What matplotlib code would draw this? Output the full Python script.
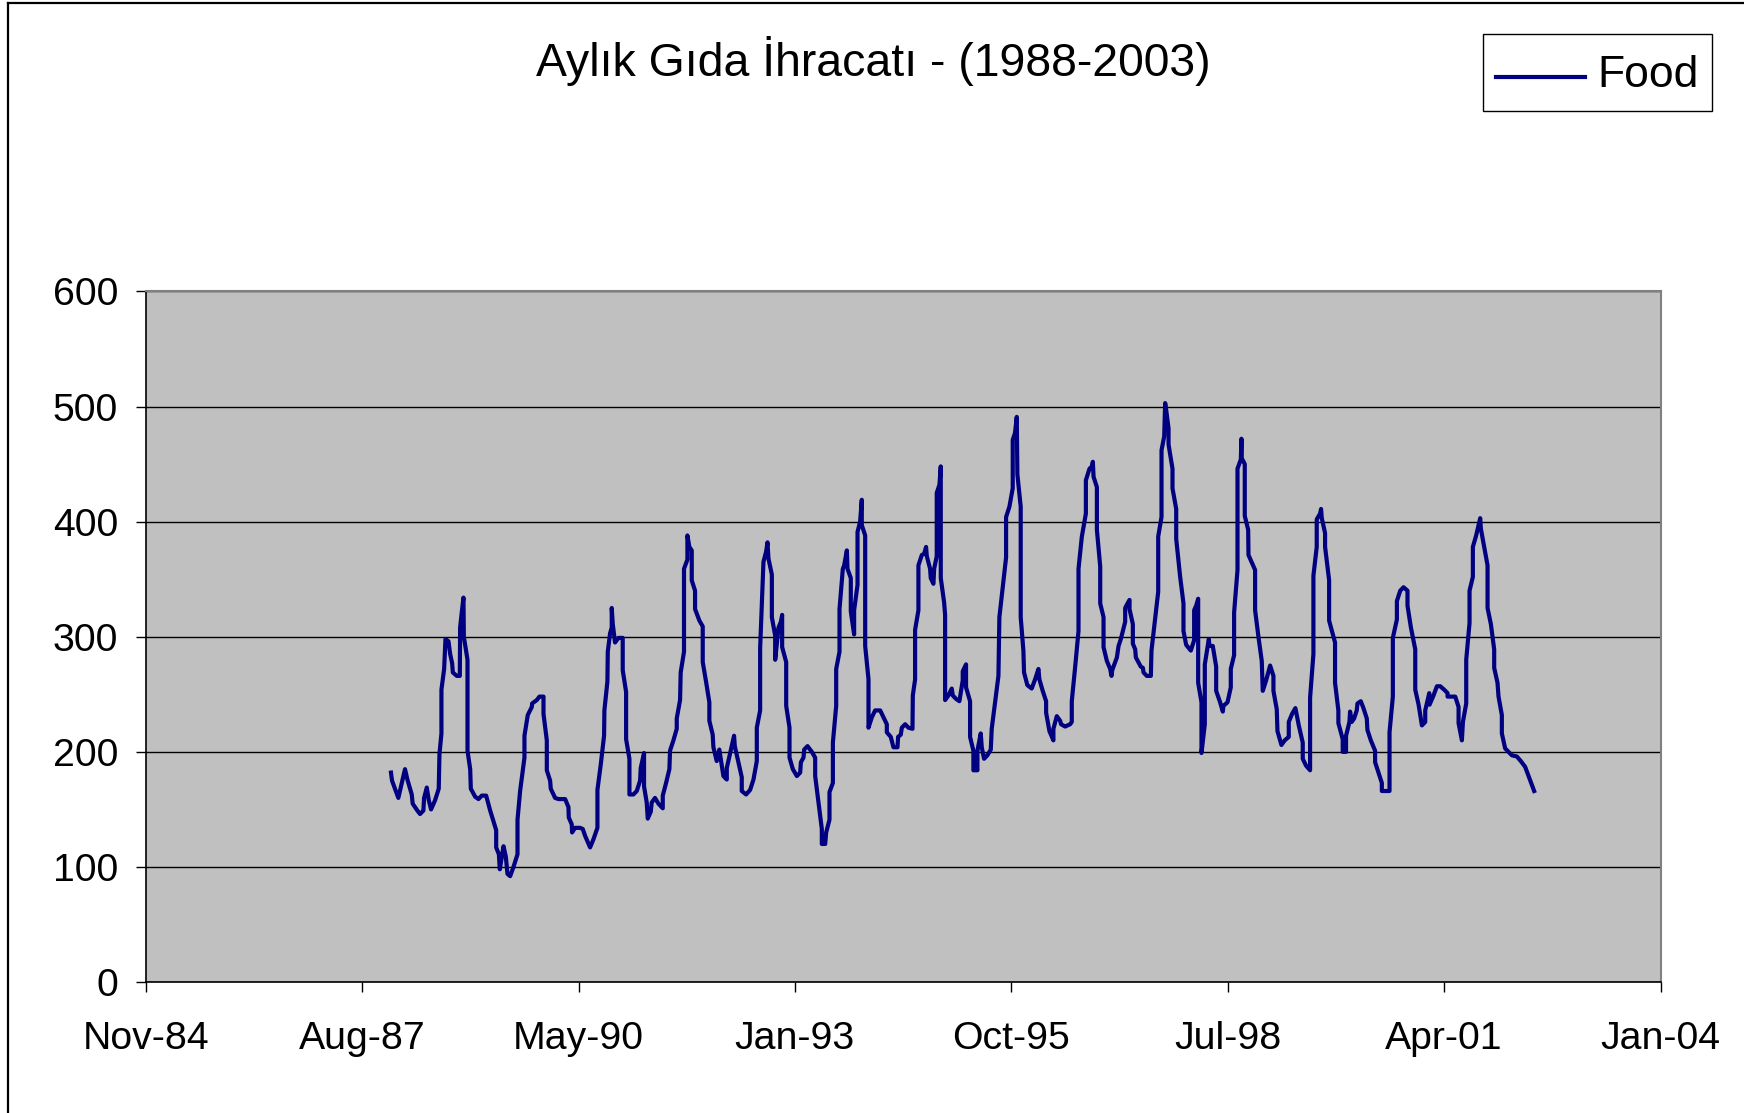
import matplotlib
matplotlib.use("Agg")
import matplotlib.pyplot as plt
import matplotlib.dates as mdates
from matplotlib.lines import Line2D
from matplotlib.legend_handler import HandlerLine2D
from datetime import datetime, timedelta

# ---- data (decimal year, monthly food exports) ----
years = [
    1987.974, 1987.987, 1988.067, 1988.151, 1988.181, 1988.236, 1988.248, 1988.307, 1988.341, 1988.383,
    1988.392, 1988.426, 1988.451, 1988.480, 1988.531, 1988.577, 1988.586, 1988.611, 1988.611, 1988.645,
    1988.662, 1988.700, 1988.721, 1988.746, 1988.755, 1988.805, 1988.843, 1988.847, 1988.864, 1988.889,
    1988.894, 1988.940, 1988.940, 1988.974, 1988.982, 1989.037, 1989.079, 1989.121, 1989.176, 1989.227,
    1989.303, 1989.303, 1989.337, 1989.349, 1989.396, 1989.425, 1989.446, 1989.480, 1989.522, 1989.573,
    1989.573, 1989.606, 1989.661, 1989.661, 1989.703, 1989.754, 1989.758, 1989.817, 1989.851, 1989.902,
    1989.902, 1989.944, 1989.944, 1989.986, 1989.994, 1990.049, 1990.091, 1990.176, 1990.218, 1990.222,
    1990.260, 1990.264, 1990.302, 1990.366,
    1990.399, 1990.429, 1990.492, 1990.534, 1990.585, 1990.585, 1990.627, 1990.669, 1990.673, 1990.711,
    1990.716, 1990.745, 1990.766, 1990.766, 1990.779, 1990.808, 1990.851, 1990.905, 1990.905, 1990.948,
    1990.948, 1990.990, 1990.990, 1991.040, 1991.083, 1991.125, 1991.133, 1991.175, 1991.175, 1991.209,
    1991.222, 1991.260, 1991.272, 1991.314, 1991.357, 1991.412, 1991.412, 1991.454, 1991.496, 1991.504,
    1991.547, 1991.589, 1991.589, 1991.631, 1991.639, 1991.681, 1991.681, 1991.724, 1991.724, 1991.749,
    1991.779, 1991.779, 1991.821, 1991.821, 1991.876, 1991.918, 1991.918, 1991.960, 1992.002, 1992.002,
    1992.044, 1992.053, 1992.095, 1992.128, 1992.179, 1992.222, 1992.222, 1992.314, 1992.323, 1992.369,
    1992.411, 1992.411, 1992.466, 1992.517, 1992.559, 1992.601, 1992.601, 1992.643, 1992.643, 1992.685,
    1992.719, 1992.736,
    1992.748, 1992.791, 1992.791, 1992.833, 1992.833, 1992.875, 1992.905, 1992.921, 1992.921, 1992.972,
    1992.972, 1993.014, 1993.014, 1993.056, 1993.107, 1993.149, 1993.158, 1993.191, 1993.200, 1993.242,
    1993.297, 1993.339, 1993.339, 1993.381, 1993.423, 1993.423, 1993.466, 1993.478, 1993.520, 1993.520,
    1993.563, 1993.563, 1993.605, 1993.605, 1993.647, 1993.647, 1993.689, 1993.706, 1993.740, 1993.748,
    1993.790, 1993.790, 1993.832, 1993.832, 1993.875, 1993.875, 1993.908, 1993.929, 1993.929, 1993.972,
    1993.972, 1994.014, 1994.014, 1994.056, 1994.098, 1994.162, 1994.204, 1994.246, 1994.246, 1994.296,
    1994.330, 1994.381, 1994.389, 1994.423, 1994.436, 1994.478, 1994.520, 1994.571, 1994.575, 1994.604,
    1994.604, 1994.646, 1994.646, 1994.689, 1994.718, 1994.743, 1994.752, 1994.794, 1994.802, 1994.836,
    1994.845, 1994.878, 1994.878, 1994.912, 1994.929, 1994.929, 1994.971, 1994.984, 1994.984, 1995.026,
    1995.068, 1995.081, 1995.123,
    1995.165, 1995.207, 1995.207, 1995.249, 1995.249, 1995.300, 1995.300, 1995.342, 1995.342, 1995.393,
    1995.393, 1995.435, 1995.448, 1995.477, 1995.519, 1995.562, 1995.574, 1995.616, 1995.659, 1995.671,
    1995.713, 1995.756, 1995.756, 1995.798, 1995.840, 1995.840, 1995.869, 1995.891, 1995.899, 1995.941,
    1995.941, 1995.975, 1995.983, 1996.025, 1996.080, 1996.123, 1996.165, 1996.177, 1996.219, 1996.262,
    1996.262, 1996.304, 1996.354, 1996.354, 1996.397, 1996.439, 1996.451, 1996.502, 1996.565, 1996.586,
    1996.586, 1996.629, 1996.671, 1996.671, 1996.713, 1996.764, 1996.764, 1996.810, 1996.840, 1996.852,
    1996.861, 1996.903, 1996.903, 1996.945, 1996.945, 1996.987, 1996.987, 1997.029, 1997.071, 1997.088,
    1997.097, 1997.156, 1997.177, 1997.206, 1997.261, 1997.261, 1997.291, 1997.316, 1997.316, 1997.358,
    1997.358, 1997.388, 1997.396, 1997.443, 1997.459, 1997.485, 1997.493, 1997.535, 1997.569,
    1997.586, 1997.594, 1997.637, 1997.679, 1997.679, 1997.721, 1997.721, 1997.755, 1997.767, 1997.780,
    1997.810, 1997.810, 1997.860, 1997.860, 1997.907, 1997.907, 1997.957, 1997.999, 1997.999, 1998.033,
    1998.092, 1998.134, 1998.134, 1998.160, 1998.185, 1998.185, 1998.227, 1998.227, 1998.269, 1998.269,
    1998.320, 1998.328, 1998.370, 1998.413, 1998.413, 1998.463, 1998.497, 1998.505, 1998.556, 1998.598,
    1998.598, 1998.640, 1998.640, 1998.683, 1998.683, 1998.725, 1998.733, 1998.737, 1998.775, 1998.775,
    1998.818, 1998.822, 1998.906, 1998.906, 1998.948, 1998.990, 1999.003, 1999.045, 1999.096, 1999.138,
    1999.138, 1999.180, 1999.189, 1999.239, 1999.281, 1999.332, 1999.332, 1999.374, 1999.416, 1999.459,
    1999.509, 1999.509, 1999.551, 1999.602, 1999.602, 1999.644, 1999.644, 1999.686, 1999.686, 1999.729,
    1999.741, 1999.750, 1999.792, 1999.792, 1999.843, 1999.843, 1999.918, 1999.918,
    1999.960, 1999.960, 2000.015, 2000.015, 2000.057, 2000.057, 2000.100, 2000.108, 2000.129, 2000.159,
    2000.192, 2000.201, 2000.243, 2000.277, 2000.319, 2000.327, 2000.370, 2000.424, 2000.424, 2000.467,
    2000.509, 2000.509, 2000.606, 2000.606, 2000.648, 2000.648, 2000.699, 2000.699, 2000.741, 2000.783,
    2000.833, 2000.833, 2000.876, 2000.931, 2000.931, 2000.973, 2001.015, 2001.057, 2001.057, 2001.108,
    2001.112, 2001.162, 2001.205, 2001.247, 2001.297, 2001.340, 2001.340, 2001.437, 2001.479, 2001.479,
    2001.521, 2001.534, 2001.576, 2001.576, 2001.618, 2001.618, 2001.660, 2001.660, 2001.702, 2001.753,
    2001.761, 2001.804, 2001.846, 2001.846, 2001.888, 2001.930, 2001.930, 2001.972, 2001.985, 2002.027,
    2002.027, 2002.069, 2002.111, 2002.154, 2002.217, 2002.267, 2002.322, 2002.365, 2002.407, 2002.436,
]
food = [
    182, 175, 160, 185, 176, 163, 155, 149, 146, 149,
    160, 169, 158, 150, 158, 168, 198, 216, 254, 272,
    298, 296, 285, 277, 269, 266, 266, 308, 319, 334,
    300, 280, 201, 185, 168, 161, 159, 162, 162, 149,
    132, 117, 111, 98, 118, 109, 94, 92, 100, 111,
    141, 166, 195, 214, 232, 239, 242, 245, 248, 248,
    233, 210, 184, 175, 168, 160, 159, 159, 152, 143,
    137, 130, 134, 134,
    133, 127, 117, 124, 134, 167, 189, 214, 236, 261,
    287, 303, 308, 325, 311, 295, 299, 299, 271, 252,
    211, 194, 163, 163, 166, 175, 186, 199, 170, 156,
    142, 148, 156, 160, 155, 151, 162, 173, 185, 201,
    210, 220, 229, 245, 269, 287, 359, 367, 388, 378,
    375, 349, 340, 324, 314, 309, 278, 261, 243, 227,
    215, 204, 192, 202, 179, 176, 186, 214, 205, 191,
    178, 166, 163, 167, 176, 192, 221, 236, 290, 365,
    374, 382,
    368, 354, 317, 301, 280, 308, 313, 319, 291, 278,
    240, 221, 195, 185, 179, 182, 191, 195, 202, 205,
    200, 195, 179, 156, 133, 120, 120, 130, 141, 165,
    173, 208, 240, 272, 287, 324, 359, 362, 375, 359,
    351, 322, 302, 323, 345, 391, 400, 419, 397, 388,
    292, 263, 221, 230, 236, 236, 230, 224, 217, 213,
    204, 204, 213, 215, 221, 224, 221, 220, 249, 263,
    306, 323, 362, 371, 372, 378, 370, 359, 351, 346,
    359, 370, 425, 432, 448, 351, 330, 319, 245, 249,
    255, 249, 246,
    244, 262, 270, 276, 256, 244, 213, 201, 184, 184,
    201, 216, 204, 194, 197, 202, 220, 243, 266, 317,
    343, 369, 404, 413, 429, 471, 477, 491, 441, 413,
    317, 288, 269, 258, 255, 263, 272, 263, 253, 244,
    234, 218, 210, 220, 231, 227, 224, 222, 224, 226,
    244, 274, 305, 359, 387, 407, 436, 446, 448, 452,
    439, 430, 393, 361, 329, 317, 291, 279, 272, 266,
    271, 282, 292, 298, 313, 325, 329, 332, 324, 311,
    294, 289, 282, 276, 274, 273, 269, 266, 266,
    266, 288, 314, 339, 387, 404, 462, 474, 503, 497,
    481, 467, 446, 429, 411, 385, 352, 329, 305, 293,
    288, 297, 323, 327, 333, 260, 243, 199, 224, 276,
    298, 292, 292, 274, 253, 243, 235, 240, 243, 256,
    272, 284, 321, 358, 446, 454, 472, 455, 450, 405,
    393, 371, 358, 323, 300, 279, 253, 262, 275, 266,
    253, 237, 218, 206, 210, 213, 226, 233, 238, 223,
    208, 194, 188, 184, 247, 285, 353, 378, 402, 407,
    411, 403, 390, 378, 349, 314, 295, 260,
    236, 225, 211, 200, 200, 214, 226, 235, 226, 229,
    236, 242, 244, 238, 229, 219, 210, 201, 191, 182,
    173, 166, 166, 217, 248, 299, 315, 331, 340, 343,
    340, 327, 308, 289, 254, 241, 223, 226, 236, 251,
    241, 249, 257, 257, 254, 251, 248, 248, 239, 225,
    210, 226, 242, 280, 312, 340, 352, 378, 388, 403,
    394, 378, 362, 325, 311, 289, 273, 260, 248, 232,
    216, 203, 200, 197, 196, 192, 187, 179, 171, 166,
]

title_text = "Aylık Gıda İhracatı - (1988-2003)"
series_name = "Food"
y_ticks = [0, 100, 200, 300, 400, 500, 600]
x_start = datetime(1984, 11, 14)   # Excel serial 31000
x_step_days = 1000
n_x_ticks = 8


def decimal_year_to_num(y):
    yi = int(y)
    a = datetime(yi, 1, 1)
    b = datetime(yi + 1, 1, 1)
    return mdates.date2num(a + (b - a) * (y - yi))


class LoweredLineHandler(HandlerLine2D):
    """Legend line drawn slightly below the text centre, as in Excel."""
    def create_artists(self, legend, orig_handle, xdescent, ydescent,
                       width, height, fontsize, trans):
        arts = super().create_artists(legend, orig_handle, xdescent, ydescent,
                                      width, height, fontsize, trans)
        for a in arts:
            if isinstance(a, Line2D):
                a.set_ydata([v - 7.0 for v in a.get_ydata()])
        return arts


plt.rcParams['font.family'] = ['Liberation Sans', 'DejaVu Sans']

W, H = 1744, 1113
fig = plt.figure(figsize=(W / 100, H / 100), dpi=100)
fig.patch.set_facecolor('white')

# outer chart border (only top and left edges visible in the original)
fig.add_artist(Line2D([7.5 / W, 7.5 / W], [0, 1 - 2.5 / H], transform=fig.transFigure,
                      color='black', linewidth=1.6))
fig.add_artist(Line2D([7.5 / W, 1], [1 - 2.5 / H, 1 - 2.5 / H], transform=fig.transFigure,
                      color='black', linewidth=1.6))

left, right = 145.7 / W, 1660.5 / W
bottom, top = 1 - 982.1 / H, 1 - 291.4 / H
ax = fig.add_axes([left, bottom, right - left, top - bottom])
ax.set_facecolor('#C0C0C0')

xs = [decimal_year_to_num(v) for v in years]
ax.plot(xs, food, color='#000080', linewidth=3.0, solid_joinstyle='round',
        label=series_name, zorder=3)

tick_dates = [x_start + timedelta(days=x_step_days * k) for k in range(n_x_ticks)]
tick_nums = [mdates.date2num(d) for d in tick_dates]
ax.set_xlim(tick_nums[0], tick_nums[-1])
ax.set_xticks(tick_nums)
ax.set_xticklabels([d.strftime('%b-%y') for d in tick_dates])
ax.set_ylim(0, 600)
ax.set_yticks(y_ticks)

ax.yaxis.grid(True, color='black', linewidth=1.0)
ax.set_axisbelow(True)

ax.tick_params(axis='both', direction='out', length=7, width=1.0,
               color='black', labelsize=28.3)
ax.tick_params(axis='x', pad=21)
ax.tick_params(axis='y', pad=13)

for s in ['left', 'bottom']:
    ax.spines[s].set_color('black')
    ax.spines[s].set_linewidth(1.2)
for s in ['top', 'right']:
    ax.spines[s].set_color('#808080')
    ax.spines[s].set_linewidth(1.5)

fig.text(873 / W, 1 - 61 / H, title_text, ha='center', va='center', fontsize=33.4)

leg = fig.legend(loc='upper right', bbox_to_anchor=(1712 / W, 1 - 34 / H),
                 fontsize=32, frameon=True, fancybox=False, framealpha=1,
                 edgecolor='black', borderpad=0.3, handlelength=2.0,
                 handleheight=1.35, handletextpad=0.28, borderaxespad=0,
                 handler_map={Line2D: LoweredLineHandler()})
leg.get_frame().set_linewidth(1.0)

fig.savefig('out.png', dpi=100, facecolor='white')
